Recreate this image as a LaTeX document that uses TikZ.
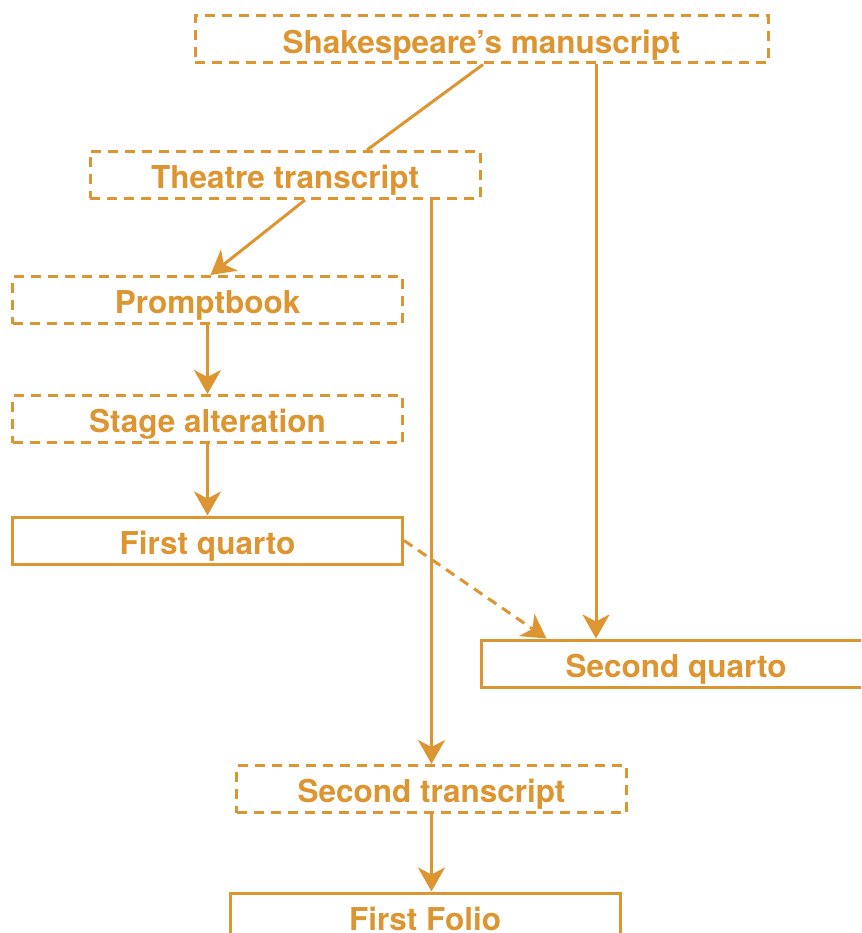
\documentclass[tikz,border=0pt]{standalone}
\usepackage{fontspec}
\setmainfont{TeX Gyre Heros}
\usetikzlibrary{arrows.meta}
\definecolor{ochre}{RGB}{221,149,50}

\begin{document}
\begin{tikzpicture}[x=1pt,y=-1pt,
    font=\fontsize{31.5}{36}\selectfont\bfseries,
    every node/.style={text=ochre,draw=ochre,line width=3pt,inner sep=0pt,
        text height=27.5pt,text depth=0pt,
        minimum width=390pt,minimum height=47pt},
    lost/.style={dash pattern=on 10pt off 7pt},
    kept/.style={},
    arr/.style={draw=ochre,line width=3pt,-{Stealth[length=24pt,width=27pt,inset=7pt]}},
    link/.style={draw=ochre,line width=3pt}]
    \path[use as bounding box,clip] (0,0) rectangle (861,933);

    \node[lost,minimum width=573pt] (ms) at (481.5,39.5) {Shakespeare’s manuscript};
    \node[lost] (tt) at (285,175) {Theatre transcript};
    \node[lost] (pb) at (207.5,300) {Promptbook};
    \node[lost] (sa) at (207.5,419) {Stage alteration};
    \node[kept] (qa) at (207.5,540.5) {First quarto};
    \node[kept] (qb) at (676,663.5) {Second quarto};
    \node[lost] (st) at (431.5,789) {Second transcript};
    \node[kept] (ff) at (425,916.5) {First Folio};

    \draw[link] ([xshift=1.5pt]ms.south) -- ([xshift=82pt]tt.north);
    \draw[arr] ([xshift=114.5pt]ms.south) -- ([xshift=-80pt]qb.north);
    \draw[arr] ([xshift=20pt]tt.south) -- ([xshift=3pt]pb.north);
    \draw[arr] (tt.south -| st.north) -- (st.north);
    \foreach \from/\to in {pb/sa, sa/qa} {
        \draw[arr] (\from.south) -- (\to.north);
    }
    \draw[arr,lost] (qa.east) -- ([xshift=67pt]qb.north west);
    \draw[arr] (st.south) -- (st.south |- ff.north);
\end{tikzpicture}
\end{document}
